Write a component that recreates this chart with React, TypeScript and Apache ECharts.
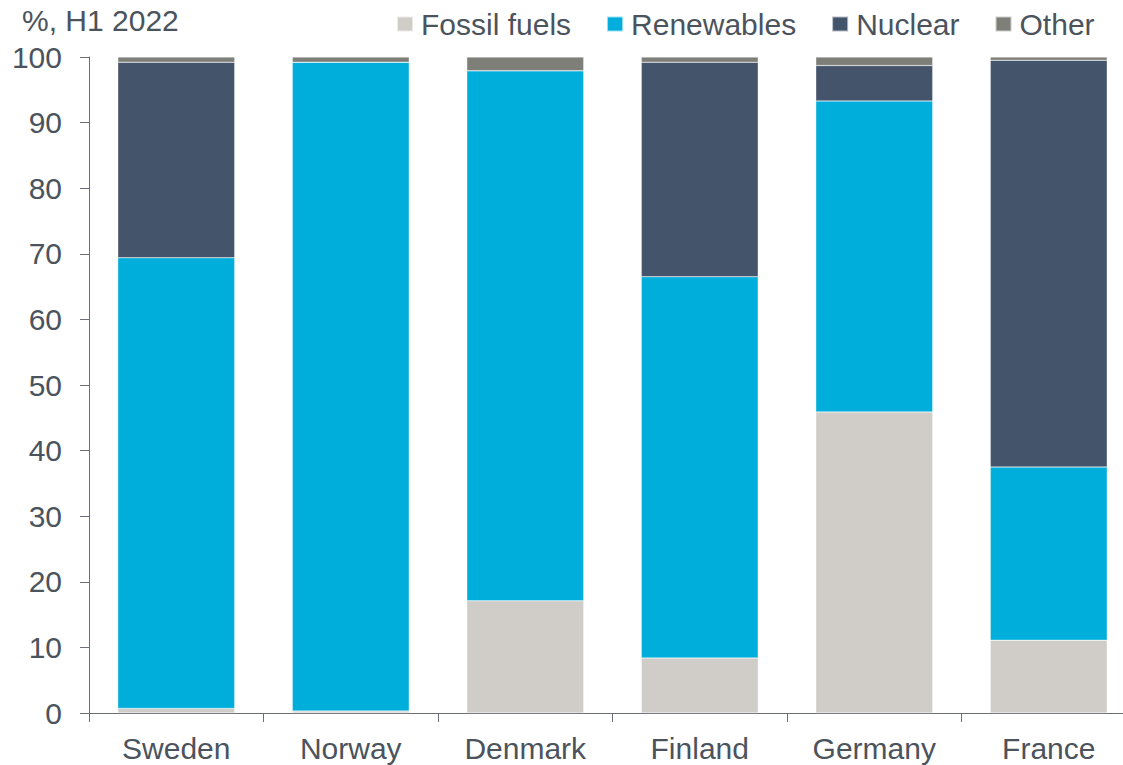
import React, { useEffect, useRef } from "react";
import * as echarts from "echarts";

const categories = ["Sweden", "Norway", "Denmark", "Finland", "Germany", "France"];
const fossil = [0.7, 0.3, 17.1, 8.4, 45.9, 11.1];
const renewables = [68.7, 98.9, 80.8, 58.1, 47.4, 26.4];
const nuclear = [29.8, 0, 0, 32.7, 5.4, 62.0];
const other = [0.8, 0.8, 2.1, 0.8, 1.3, 0.5];
const yTicks = [0, 10, 20, 30, 40, 50, 60, 70, 80, 90, 100];

const TEXT = "#4B535D";
const AXIS = "#6B7078";
const FONT = "Arial, 'Liberation Sans', sans-serif";

export default function App() {
  const ref = useRef<HTMLDivElement>(null);
  useEffect(() => {
    const chart = echarts.init(ref.current!, null, { renderer: "svg" });
    const mk = (name: string, data: number[], color: string) => ({
      name,
      type: "bar",
      stack: "all",
      data,
      barWidth: "67%",
      itemStyle: { color, borderColor: "rgba(255,255,255,0.6)", borderWidth: 0.5 },
    });
    chart.setOption({
      animation: false,
      textStyle: { fontFamily: FONT },
      title: {
        text: "%, H1 2022",
        left: 17,
        top: 0,
        textStyle: { fontSize: 30, fontWeight: "normal", color: TEXT, fontFamily: FONT },
      },
      legend: {
        left: 391,
        top: 4,
        itemWidth: 16,
        itemHeight: 15,
        itemGap: 35,
        icon: "rect",
        textStyle: { fontSize: 30, color: TEXT, fontFamily: FONT, padding: [0, 0, 0, 3] },
        data: ["Fossil fuels", "Renewables", "Nuclear", "Other"],
      },
      grid: {
        left: 89,
        width: 1047,
        top: 57,
        bottom: 52,
        containLabel: false,
        outerBoundsMode: "none",
      },
      xAxis: {
        type: "category",
        data: categories,
        axisLine: { lineStyle: { color: AXIS, width: 1 } },
        axisTick: { show: true, length: 9, lineStyle: { color: AXIS } },
        axisLabel: { fontSize: 30, color: TEXT, margin: 20, fontFamily: FONT },
      },
      yAxis: {
        type: "value",
        min: 0,
        max: 100,
        interval: 10,
        splitLine: { show: false },
        axisLine: { show: true, lineStyle: { color: AXIS, width: 1 } },
        axisTick: { show: true, length: 9, lineStyle: { color: AXIS } },
        axisLabel: {
          fontSize: 30,
          color: TEXT,
          margin: 27,
          fontFamily: FONT,
          formatter: (v: number) => (yTicks.includes(v) ? String(v) : ""),
        },
      },
      series: [
        mk("Fossil fuels", fossil, "#D0CDC8"),
        mk("Renewables", renewables, "#00AEDC"),
        mk("Nuclear", nuclear, "#44546A"),
        mk("Other", other, "#7F7F7A"),
      ],
    });
    return () => chart.dispose();
  }, []);
  return (
    <div
      ref={ref}
      style={{ position: "fixed", left: 0, top: 0, width: 1123, height: 765, background: "#fff" }}
    />
  );
}
